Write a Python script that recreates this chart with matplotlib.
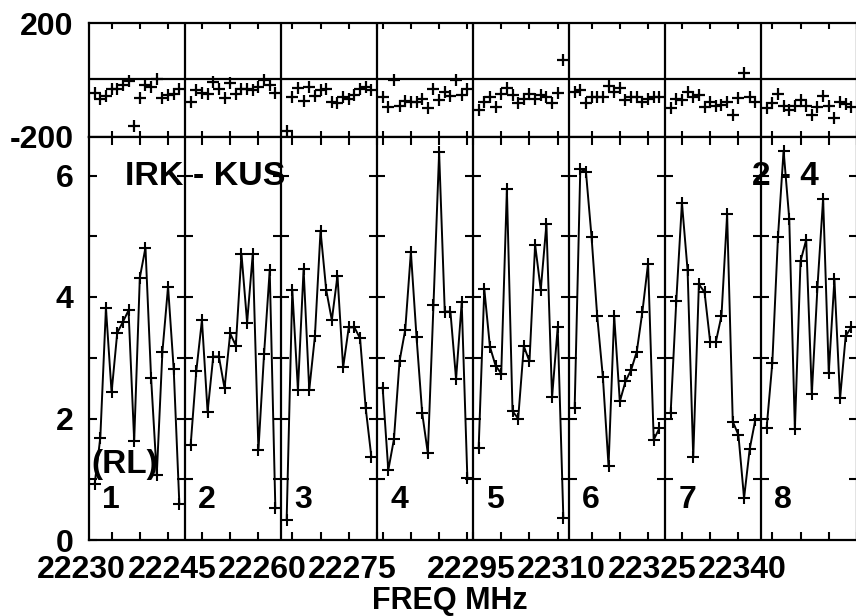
import numpy as np
import matplotlib
matplotlib.use('Agg')
import matplotlib.pyplot as plt
from matplotlib import transforms

plt.rcParams['font.family'] = ['Liberation Sans', 'DejaVu Sans']
plt.rcParams['font.weight'] = 'bold'

# ---------------- data ----------------
chan_names = ['1', '2', '3', '4', '5', '6', '7', '8']
chan_start_freq = [22226, 22242, 22258, 22274, 22290, 22306, 22322, 22338]
tick_label_freq = [22230, 22245, 22260, 22275, 22295, 22310, 22325, 22340]
chan_width = 17  # MHz span of each channel box

amp_ch1 = [0.92, 1.68, 3.82, 2.43, 3.41, 3.59, 3.78, 1.63, 4.32, 4.81, 2.66, 1.07, 3.10, 4.17, 2.81, 0.59]
amp_ch2 = [1.56, 2.78, 3.62, 2.11, 3.02, 3.02, 2.50, 3.40, 3.20, 4.71, 3.58, 4.71, 1.48, 3.06, 4.44, 0.52]
amp_ch3 = [0.33, 4.12, 2.47, 4.46, 2.47, 3.35, 5.09, 4.12, 3.62, 4.35, 2.84, 3.50, 3.50, 3.32, 2.17, 1.37]
amp_ch4 = [2.51, 1.15, 1.66, 2.95, 3.46, 4.74, 3.34, 2.09, 1.43, 3.87, 6.38, 3.76, 3.76, 2.65, 3.91, 1.02]
amp_ch5 = [1.51, 4.13, 3.18, 2.87, 2.74, 5.78, 2.12, 2.00, 3.19, 2.94, 4.86, 4.12, 5.20, 2.35, 3.50, 0.36]
amp_ch6 = [2.17, 6.11, 6.06, 4.98, 3.68, 2.68, 1.22, 3.69, 2.28, 2.61, 2.80, 3.10, 3.76, 4.55, 1.65, 1.84]
amp_ch7 = [2.09, 3.94, 5.55, 4.44, 1.36, 4.21, 4.08, 3.26, 3.26, 3.69, 5.36, 1.95, 1.73, 0.69, 1.50, 1.98]
amp_ch8 = [1.85, 2.91, 4.98, 6.41, 5.29, 1.82, 4.59, 4.94, 2.40, 4.17, 5.62, 2.75, 4.29, 2.33, 3.36, 3.50]

ph_ch1 = [-45, -68, -58, -33, -30, -17, -3, -162, -63, -18, -25, 5, -62, -52, -50, -33]
ph_ch2 = [-76, -37, -47, -50, -6, -33, -65, -12, -49, -33, -33, -37, -26, 0, -18, -47]
ph_ch3 = [-180, -59, -29, -73, -26, -56, -35, -33, -76, -82, -59, -68, -53, -33, -26, -35]
ph_ch4 = [-61, -96, 0, -92, -73, -76, -76, -67, -100, -33, -70, -41, -56, 0, -53, -33]
ph_ch5 = [-106, -76, -59, -96, -50, -29, -53, -82, -68, -49, -68, -53, -59, -82, -47, 71]
ph_ch6 = [-41, -37, -82, -59, -59, -59, -21, -41, -29, -70, -61, -61, -76, -68, -61, -59]
ph_ch7 = [-100, -68, -70, -41, -61, -53, -96, -76, -92, -88, -76, -123, -65, 26, -61, -76]
ph_ch8 = [-100, -82, -50, -92, -106, -92, -70, -92, -123, -94, -56, -92, -135, -76, -85, -96]

amps = [amp_ch1, amp_ch2, amp_ch3, amp_ch4, amp_ch5, amp_ch6, amp_ch7, amp_ch8]
phases = [ph_ch1, ph_ch2, ph_ch3, ph_ch4, ph_ch5, ph_ch6, ph_ch7, ph_ch8]

baseline_label = 'IRK - KUS'
pol_label = '(RL)'
ant_label = '2 - 4'
xlabel = 'FREQ MHz'
amp_ticks = [0, 1, 2, 3, 4, 5, 6]
amp_ticklabels = ['0', '', '2', '', '4', '', '6']
ph_ticks = [-200, 200]
ph_ticklabels = ['-200', '200']

# ---------------- figure ----------------
W, H = 856, 616
fig = plt.figure(figsize=(W / 100, H / 100), dpi=100)
fs = 23
lw_frame = 1.6
ax_left = 89 / W
ax_w = 768 / W
ax_ph = fig.add_axes([ax_left, (H - 136.7) / H, ax_w, (136.7 - 23.3) / H])
ax_amp = fig.add_axes([ax_left, (H - 540) / H, ax_w, (540 - 136.7) / H])

nchan = len(amps)
xmax = nchan * chan_width

# x ticks per channel (every 5 MHz)
tick_pos = []
for k, f0 in enumerate(chan_start_freq):
    for f in range(f0, f0 + chan_width + 1):
        if f % 5 == 0:
            tick_pos.append(k * chan_width + (f - f0))

for ax in (ax_ph, ax_amp):
    ax.set_xlim(0, xmax)
    for s in ax.spines.values():
        s.set_linewidth(lw_frame)
    ax.set_xticks(tick_pos)
    ax.set_xticklabels([])
    for k in range(1, nchan):
        ax.axvline(k * chan_width, color='black', lw=lw_frame)

ax_ph.tick_params(axis='x', which='both', direction='in', top=True, bottom=True,
                  length=4, width=1.5)
ax_amp.tick_params(axis='x', which='both', direction='in', top=True, bottom=True,
                   length=6, width=1.5)

# phase panel
ax_ph.set_ylim(-200, 200)
ax_ph.set_yticks(ph_ticks)
ax_ph.set_yticklabels(ph_ticklabels, fontsize=fs, fontweight='bold')
ax_ph.tick_params(axis='y', length=0, pad=11)
ax_ph.axhline(2, color='black', lw=lw_frame)

# amplitude panel
ax_amp.set_ylim(0, 403.3 / 60.75)
ax_amp.set_yticks(amp_ticks)
ax_amp.set_yticklabels(amp_ticklabels, fontsize=fs, fontweight='bold')
ax_amp.tick_params(axis='y', direction='in', length=6, width=1.5, pad=11)

# boundary ticks on channel separators
for k in range(1, nchan + 1):
    ax_amp.plot([k * chan_width] * (len(amp_ticks) - 1), amp_ticks[1:], ls='none',
                marker='_', ms=12, mew=1.5, color='black')

for k in range(nchan):
    x = [k * chan_width + 1 + i for i in range(len(amps[k]))]
    ax_amp.plot(x, amps[k], color='black', lw=1.4, marker='+', ms=8.5, mew=1.5)
    ax_ph.plot(x, phases[k], ls='none', color='black', marker='+', ms=9, mew=1.6)

# frequency labels
trans = transforms.blended_transform_factory(ax_amp.transData, ax_amp.transAxes)
for k, (f0, fl) in enumerate(zip(chan_start_freq, tick_label_freq)):
    pos = k * chan_width + (fl - f0)
    ax_amp.text(pos - 5.3, -38 / 403.3, str(fl), transform=trans, ha='center',
                va='baseline', fontsize=fs, fontweight='bold', clip_on=False)

# channel numbers
for k, name in enumerate(chan_names):
    ax_amp.text(k * chan_width + 3.9, (540 - 508) / 60.75, name, ha='center',
                va='baseline', fontsize=fs, fontweight='bold')

# annotations
ax_amp.text((205 - 89) / 5.647, (540 - 185) / 60.75, baseline_label, ha='center',
            va='baseline', fontsize=24.5, fontweight='bold')
ax_amp.text((785 - 89) / 5.647, (540 - 185) / 60.75, ant_label, ha='center',
            va='baseline', fontsize=24, fontweight='bold')
ax_amp.text((125 - 89) / 5.647, (540 - 473) / 60.75, pol_label, ha='center',
            va='baseline', fontsize=24, fontweight='bold')

fig.text(450 / W, 1 - 609 / H, xlabel, ha='center', va='baseline', fontsize=22,
         fontweight='bold')

fig.savefig('out.png', dpi=100)
